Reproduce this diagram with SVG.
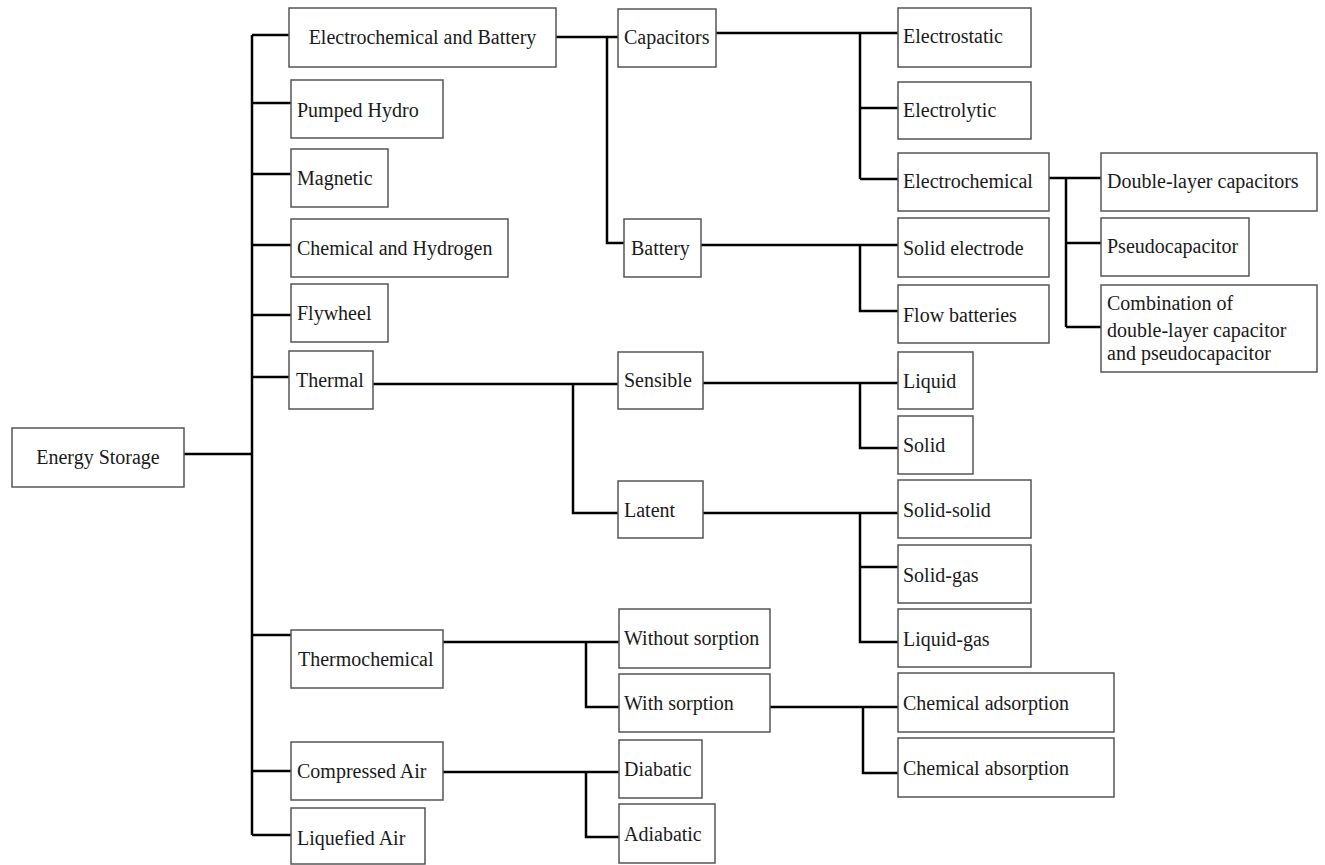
<svg xmlns="http://www.w3.org/2000/svg" width="1325" height="865" viewBox="0 0 1325 865">
<style>
.box{fill:#fff;stroke:#555;stroke-width:1.5}
text{font-family:'Liberation Serif','DejaVu Serif',serif;font-size:20px;fill:#1a1a1a}
.c{fill:none;stroke:#000;stroke-width:2.5}
</style>
<rect width="1325" height="865" fill="#fff"/>
<g id="connectors">
<path class="c" d="M184 454H252M252 35V835M252 35H289M252 103H291M252 174H291M252 245H291M252 315H291M252 377H289M252 635H291M252 771H291M252 835H291"/>
<path class="c" d="M556 37H618M607 37V243H624"/>
<path class="c" d="M716 33H898M860 33V179M860 108H898M860 179H898"/>
<path class="c" d="M701 245H898M860 245V311H898"/>
<path class="c" d="M1049 178H1101M1066 178V327M1066 243H1101M1066 327H1101"/>
<path class="c" d="M373 384H618M573 384V513H618"/>
<path class="c" d="M703 383H898M860 383V448H898"/>
<path class="c" d="M703 513H898M860 513V642H898M860 567H898"/>
<path class="c" d="M443 642H619M586 642V707H619"/>
<path class="c" d="M770 707H898M863 707V773H898"/>
<path class="c" d="M443 772H619M586 772V837H619"/>
</g>
<g font-family="Liberation Serif, DejaVu Serif, serif" font-size="20">
<g id="energy-storage"><rect class="box" x="12" y="428" width="172" height="59"/><text x="98" y="464" text-anchor="middle">Energy Storage</text></g>
<g id="electrochemical-battery"><rect class="box" x="289" y="8" width="267" height="59"/><text x="422.5" y="44" text-anchor="middle">Electrochemical and Battery</text></g>
<g id="pumped-hydro"><rect class="box" x="291" y="80" width="152" height="58"/><text x="297" y="117">Pumped Hydro</text></g>
<g id="magnetic"><rect class="box" x="291" y="149" width="97" height="58"/><text x="297" y="185">Magnetic</text></g>
<g id="chemical-hydrogen"><rect class="box" x="291" y="219" width="217" height="58"/><text x="297" y="255">Chemical and Hydrogen</text></g>
<g id="flywheel"><rect class="box" x="291" y="284" width="97" height="58"/><text x="297" y="320">Flywheel</text></g>
<g id="thermal"><rect class="box" x="289" y="351" width="84" height="58"/><text x="296" y="387">Thermal</text></g>
<g id="thermochemical"><rect class="box" x="291" y="630" width="152" height="58"/><text x="298" y="666">Thermochemical</text></g>
<g id="compressed-air"><rect class="box" x="291" y="742" width="152" height="58"/><text x="297" y="778">Compressed Air</text></g>
<g id="liquefied-air"><rect class="box" x="291" y="808" width="134" height="56"/><text x="297" y="845">Liquefied Air</text></g>
<g id="capacitors"><rect class="box" x="618" y="9" width="98" height="58"/><text x="624" y="44">Capacitors</text></g>
<g id="battery"><rect class="box" x="624" y="219" width="77" height="58"/><text x="631" y="255">Battery</text></g>
<g id="electrostatic"><rect class="box" x="898" y="8" width="133" height="59"/><text x="903" y="43">Electrostatic</text></g>
<g id="electrolytic"><rect class="box" x="898" y="82" width="133" height="57"/><text x="903" y="117">Electrolytic</text></g>
<g id="electrochemical"><rect class="box" x="898" y="153" width="151" height="58"/><text x="903" y="188">Electrochemical</text></g>
<g id="double-layer"><rect class="box" x="1101" y="153" width="216" height="58"/><text x="1107" y="188">Double-layer capacitors</text></g>
<g id="pseudocapacitor"><rect class="box" x="1101" y="218" width="148" height="58"/><text x="1107" y="253">Pseudocapacitor</text></g>
<g id="combination"><rect class="box" x="1101" y="285" width="216" height="87"/><text x="1107" y="310">Combination of</text><text x="1107" y="337">double-layer capacitor</text><text x="1107" y="360">and pseudocapacitor</text></g>
<g id="solid-electrode"><rect class="box" x="898" y="218" width="151" height="59"/><text x="903" y="255">Solid electrode</text></g>
<g id="flow-batteries"><rect class="box" x="898" y="285" width="151" height="58"/><text x="903" y="322">Flow batteries</text></g>
<g id="sensible"><rect class="box" x="618" y="352" width="85" height="57"/><text x="624" y="387">Sensible</text></g>
<g id="latent"><rect class="box" x="618" y="481" width="85" height="57"/><text x="624" y="517">Latent</text></g>
<g id="liquid"><rect class="box" x="898" y="352" width="75" height="57"/><text x="903" y="388">Liquid</text></g>
<g id="solid"><rect class="box" x="898" y="416" width="75" height="58"/><text x="903" y="452">Solid</text></g>
<g id="solid-solid"><rect class="box" x="898" y="480" width="133" height="58"/><text x="903" y="517">Solid-solid</text></g>
<g id="solid-gas"><rect class="box" x="898" y="545" width="133" height="58"/><text x="903" y="582">Solid-gas</text></g>
<g id="liquid-gas"><rect class="box" x="898" y="609" width="133" height="58"/><text x="903" y="646">Liquid-gas</text></g>
<g id="without-sorption"><rect class="box" x="619" y="609" width="151" height="59"/><text x="624" y="645">Without sorption</text></g>
<g id="with-sorption"><rect class="box" x="619" y="674" width="151" height="58"/><text x="624" y="710">With sorption</text></g>
<g id="chemical-adsorption"><rect class="box" x="898" y="673" width="216" height="59"/><text x="903" y="710">Chemical adsorption</text></g>
<g id="chemical-absorption"><rect class="box" x="898" y="738" width="216" height="59"/><text x="903" y="775">Chemical absorption</text></g>
<g id="diabatic"><rect class="box" x="619" y="740" width="83" height="58"/><text x="624" y="776">Diabatic</text></g>
<g id="adiabatic"><rect class="box" x="619" y="804" width="96" height="59"/><text x="624" y="841">Adiabatic</text></g>
</g>
</svg>
